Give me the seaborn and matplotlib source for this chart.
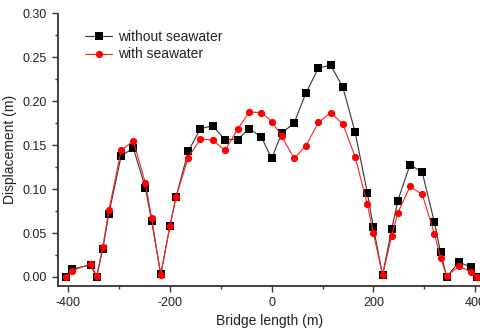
import numpy as np
import pandas as pd
import matplotlib
matplotlib.use("Agg")
import matplotlib.pyplot as plt
import seaborn as sns
from matplotlib.ticker import MultipleLocator

bridge_x = [-404, -392, -356, -344, -332, -320, -296, -272, -248, -236, -218, -200, -188,
            -164, -140, -116, -92, -67, -44, -20, 0, 20, 44, 67, 92, 116, 140, 164, 188,
            200, 218, 236, 248, 272, 296, 320, 332, 344, 368, 392, 404]
without_seawater = [0.000, 0.009, 0.0136, 0.000, 0.032, 0.072, 0.1375, 0.147, 0.101, 0.0636,
                    0.003, 0.058, 0.091, 0.143, 0.169, 0.172, 0.1565, 0.1565, 0.169, 0.159,
                    0.135, 0.164, 0.175, 0.209, 0.238, 0.241, 0.216, 0.165, 0.096, 0.0565,
                    0.002, 0.0545, 0.087, 0.128, 0.119, 0.062, 0.028, 0.000, 0.017, 0.011, 0.000]
with_seawater = [0.000, 0.007, 0.015, 0.001, 0.034, 0.076, 0.144, 0.155, 0.1065, 0.067,
                 0.002, 0.058, 0.091, 0.136, 0.157, 0.156, 0.144, 0.168, 0.188, 0.187,
                 0.177, 0.160, 0.135, 0.149, 0.176, 0.187, 0.174, 0.137, 0.083, 0.050,
                 0.002, 0.047, 0.073, 0.103, 0.094, 0.049, 0.022, 0.001, 0.012, 0.006, 0.000]
series_names = ["without seawater", "with seawater"]

df = pd.DataFrame({
    "x": bridge_x * 2,
    "y": without_seawater + with_seawater,
    "series": [series_names[0]] * len(bridge_x) + [series_names[1]] * len(bridge_x),
})

sns.set_style("white")
plt.rcParams["font.family"] = ["Liberation Sans", "DejaVu Sans"]
plt.rcParams["axes.unicode_minus"] = False

fig = plt.figure(figsize=(4.81, 3.32), dpi=100)
W, H = 481, 332
ax = fig.add_axes([58 / W, 1 - 285.7 / H, (481 - 58) / W, (285.7 - 13.5) / H])

sns.lineplot(data=df, x="x", y="y", hue="series", style="series",
             palette={series_names[0]: "black", series_names[1]: "red"},
             markers={series_names[0]: "s", series_names[1]: "o"},
             dashes=False, markersize=5.2, markeredgewidth=0, linewidth=0.8,
             sort=False, ax=ax, legend=True)
for line in ax.lines:
    if line.get_color() in ("red", "#ff0000"):
        line.set_color("#ff2020")
        line.set_markerfacecolor("red")
    else:
        line.set_color("#333333")
        line.set_markerfacecolor("black")

ax.set_xlim(-420, 411.5)
ax.set_ylim(-0.01, 0.30)
ax.xaxis.set_major_locator(MultipleLocator(200))
ax.xaxis.set_minor_locator(MultipleLocator(100))
ax.yaxis.set_major_locator(MultipleLocator(0.05))
ax.yaxis.set_minor_locator(MultipleLocator(0.025))
ax.yaxis.set_major_formatter(matplotlib.ticker.FormatStrFormatter("%.2f"))
ax.tick_params(which="major", direction="out", length=4.5, width=1.0, labelsize=9,
               color="#333333", labelcolor="#222222", bottom=True, left=True)
ax.tick_params(which="minor", direction="out", length=2.5, width=1.0, color="#333333",
               bottom=True, left=True)
for s in ["top", "right"]:
    ax.spines[s].set_visible(False)
for s in ["left", "bottom"]:
    ax.spines[s].set_color("#333333")
    ax.spines[s].set_linewidth(1.3)

ax.set_xlabel("Bridge length (m)", fontsize=10, color="#222222")
ax.set_ylabel("Displacement (m)", fontsize=10, color="#222222")

leg = ax.legend(loc="upper left", bbox_to_anchor=(0.05, 0.96), frameon=False,
                fontsize=10, handlelength=2.0, handletextpad=0.4, labelspacing=0.25,
                borderaxespad=0)
for t in leg.get_texts():
    t.set_color("#222222")

fig.savefig("out.png", dpi=100)
